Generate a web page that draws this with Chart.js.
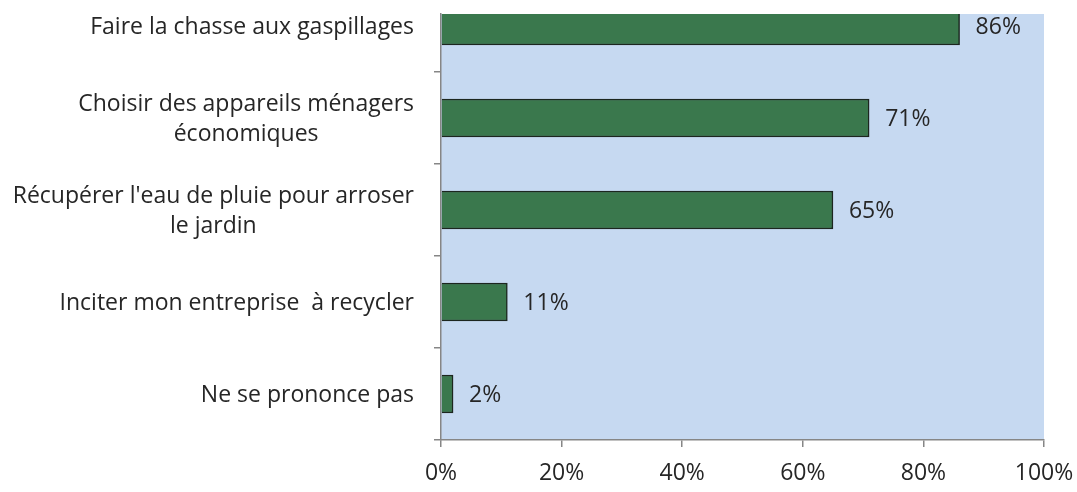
<!DOCTYPE html>
<html>
<head>
<meta charset="utf-8">
<script src="https://cdn.jsdelivr.net/npm/chart.js@4.4.1/dist/chart.umd.min.js"></script>
<style>
  html, body { margin: 0; padding: 0; background: #fff; }
  #wrap { width: 1077px; height: 492px; }
</style>
</head>
<body>
<div id="wrap"><canvas id="chart"></canvas></div>
<script>
const categories = [
  ['Faire la chasse aux gaspillages'],
  ['Choisir des appareils ménagers', 'économiques'],
  ["Récupérer l'eau de pluie pour arroser", 'le jardin'],
  ['Inciter mon entreprise  à recycler'],
  ['Ne se prononce pas']
];
const values = [86, 71, 65, 11, 2];
const xTicks = [0, 20, 40, 60, 80, 100];

const FONT = '"Open Sans", Lato, sans-serif';
const FSIZE = 23;
const TEXT = '#262626';
const AXIS = '#868686';

// plot area background, only inside the chart area
const plotBg = {
  id: 'plotBg',
  beforeDraw(chart) {
    const { ctx, chartArea: a } = chart;
    ctx.save();
    ctx.fillStyle = '#c6d9f1';
    ctx.fillRect(a.left, a.top, a.right - a.left, a.bottom - a.top);
    ctx.restore();
  }
};

// category labels: block right-aligned next to the axis, lines centred inside the block
const catLabels = {
  id: 'catLabels',
  afterDraw(chart) {
    const { ctx } = chart;
    const y = chart.scales.y;
    const right = chart.chartArea.left - 27;
    const lh = 30;
    ctx.save();
    ctx.font = FSIZE + 'px ' + FONT;
    ctx.fillStyle = TEXT;
    ctx.textAlign = 'center';
    ctx.textBaseline = 'middle';
    categories.forEach((lines, i) => {
      const w = Math.max(...lines.map((l) => ctx.measureText(l).width));
      const cx = right - w / 2;
      const cy = y.getPixelForValue(i) + 1;
      lines.forEach((l, j) => {
        ctx.fillText(l, cx, cy + (j - (lines.length - 1) / 2) * lh);
      });
    });
    ctx.restore();
  }
};

// value labels to the right of each bar
const valueLabels = {
  id: 'valueLabels',
  afterDatasetsDraw(chart) {
    const { ctx } = chart;
    const meta = chart.getDatasetMeta(0);
    ctx.save();
    ctx.font = FSIZE + 'px ' + FONT;
    ctx.fillStyle = TEXT;
    ctx.textAlign = 'left';
    ctx.textBaseline = 'middle';
    meta.data.forEach((bar, i) => {
      ctx.fillText(values[i] + '%', bar.x + 16, bar.y + 1);
    });
    ctx.restore();
  }
};

new Chart(document.getElementById('chart'), {
  type: 'bar',
  data: {
    datasets: [{
      data: values.map((v, i) => ({ x: v, y: i })),
      backgroundColor: '#3a784d',
      borderColor: '#1c261f',
      borderWidth: 1.5,
      barThickness: 38,
      clip: 0
    }]
  },
  options: {
    indexAxis: 'y',
    responsive: true,
    maintainAspectRatio: false,
    animation: false,
    layout: { padding: { top: 14, right: 33, left: 0, bottom: 0 } },
    plugins: { legend: { display: false }, tooltip: { enabled: false } },
    scales: {
      x: {
        type: 'linear',
        min: 0,
        max: 100,
        afterBuildTicks: (s) => { s.ticks = xTicks.map((v) => ({ value: v })); },
        afterFit: (s) => { s.height = 52; s.paddingLeft = 0; s.paddingRight = 0; },
        border: { color: AXIS, width: 1.5 },
        grid: { drawOnChartArea: false, drawTicks: true, tickLength: 7, color: AXIS, lineWidth: 1.5 },
        ticks: {
          padding: 13,
          color: TEXT,
          font: { family: FONT, size: FSIZE },
          maxRotation: 0,
          callback: (v) => v + '%'
        }
      },
      y: {
        type: 'linear',
        reverse: true,
        offset: false,
        min: -0.13,
        max: 4.5,
        afterBuildTicks: (s) => { s.ticks = categories.map((c, i) => ({ value: i })); },
        afterFit: (s) => { s.width = 441; s.paddingTop = 0; s.paddingBottom = 0; },
        border: { color: AXIS, width: 1.5 },
        grid: { drawOnChartArea: false, drawTicks: true, tickLength: 7, color: AXIS, lineWidth: 1.5, offset: true },
        ticks: { display: false }
      }
    }
  },
  plugins: [plotBg, catLabels, valueLabels]
});
</script>
</body>
</html>
